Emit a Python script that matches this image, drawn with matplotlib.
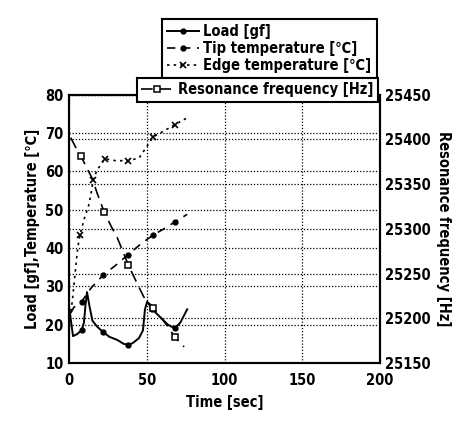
import numpy as np
import matplotlib
matplotlib.use("Agg")
import matplotlib.pyplot as plt

plt.rcParams['font.family'] = ['DejaVu Sans']
plt.rcParams['font.stretch'] = 'condensed'
plt.rcParams['font.weight'] = 'bold'

# load [gf]
load_t = [0, 2.5, 5, 8, 9.5, 10.5, 11.5, 13, 15, 18, 22, 26, 31, 35, 38, 41, 45,
          47.5, 48.8, 50.2, 53.5, 58.5, 63.5, 68, 71.5, 76]
load_v = [24.5, 17, 17.5, 18.5, 20.5, 25, 28.5, 25, 21, 19.5, 18, 16.8, 16, 15,
          14.7, 15.2, 16.5, 18.5, 24, 26, 24, 22, 20, 19, 20.5, 24]
load_mk = [3, 10, 14, 20, 23]

# tip temperature [C]
tip_t = [1, 3, 8, 14, 22, 30, 38, 46, 54, 61, 68, 76]
tip_v = [23, 24.5, 26, 29.5, 33, 35.5, 38.3, 41, 43.4, 45, 46.8, 48.8]
tip_mk = [2, 4, 6, 8, 10]

# edge temperature [C]
edge_t = [0, 2, 4, 5.5, 7, 10, 12.5, 14, 15.5, 18, 23, 30, 38, 45, 50, 54, 62, 68, 76]
edge_v = [20, 26, 34, 40, 43.5, 48, 51, 54, 57.8, 60.4, 63.3, 62.8, 62.8, 63.5,
          66.5, 69, 70.8, 72.2, 74]
edge_mk = [4, 8, 10, 12, 15, 17]

# resonance frequency [Hz]
res_t = [1, 4, 7.7, 12, 15, 18, 22.5, 27, 31, 38, 44, 48, 54, 58, 63, 68, 74]
res_v = [25402, 25392, 25381, 25366, 25356, 25340, 25319, 25303, 25290, 25260,
         25238, 25224, 25212, 25203, 25192, 25179, 25168]
res_mk = [2, 6, 9, 12, 15]

fig = plt.figure(figsize=(4.61, 4.29), dpi=100)
ax1 = fig.add_axes([0.150, 0.154, 0.674, 0.625])
ax2 = ax1.twinx()

l1, = ax1.plot(load_t, load_v, '-', color='black', lw=1.4, marker='o', ms=3.5,
               markevery=load_mk, label='Load [gf]')
l2, = ax1.plot(tip_t, tip_v, color='black', lw=1.2, ls=(0, (5, 4)), marker='o',
               ms=3.5, markevery=tip_mk, label='Tip temperature [℃]')
l3, = ax1.plot(edge_t, edge_v, color='black', lw=1.2, ls=(0, (1.5, 2.5)), marker='x',
               ms=4, mew=1.2, markevery=edge_mk, label='Edge temperature [℃]')
l4, = ax2.plot(res_t, res_v, color='black', lw=1.2, ls=(0, (7, 4)), marker='s', ms=4.5,
               mfc='white', mew=1.1, markevery=res_mk, label='Resonance frequency [Hz]')

ax1.set_xlim(0, 200)
ax1.set_ylim(10, 80)
ax2.set_ylim(25150, 25450)
ax1.set_xticks([0, 50, 100, 150, 200])
ax1.set_yticks(np.arange(10, 81, 10))
ax2.set_yticks(np.arange(25150, 25451, 50))

ax1.grid(True, color='black', ls=(0, (1, 1.5)), lw=0.9)
ax2.grid(True, axis='y', color='black', ls=(0, (1, 1.5)), lw=0.9)
ax1.tick_params(length=0, labelsize=10.5, pad=4)
ax1.tick_params(axis='x', pad=7)
ax2.tick_params(length=0, labelsize=10.5, pad=4)
for ax in (ax1, ax2):
    for s in ax.spines.values():
        s.set_linewidth(1.5)

ax1.set_xlabel('Time [sec]', fontsize=10.5, fontweight='bold', labelpad=5)
ax1.set_ylabel('Load [gf],Temperature [℃]', fontsize=10.5, fontweight='bold')
ax2.set_ylabel('Resonance frequency [Hz]', fontsize=10.5, fontweight='bold',
               rotation=270, labelpad=14)

leg1 = ax2.legend(handles=[l1, l2, l3], loc='upper left', bbox_to_anchor=(0.351, 0.956),
                  bbox_transform=fig.transFigure, borderaxespad=0, fancybox=False,
                  framealpha=1, edgecolor='black', fontsize=10.5, handlelength=2.2,
                  handletextpad=0.3, labelspacing=0.15, borderpad=0.35)
leg1.get_frame().set_linewidth(1.5)
ax2.add_artist(leg1)
leg2 = ax2.legend(handles=[l4], loc='upper left', bbox_to_anchor=(0.297, 0.818),
                  bbox_transform=fig.transFigure, borderaxespad=0, fancybox=False,
                  framealpha=1, edgecolor='black', fontsize=10.5, handlelength=2.2,
                  handletextpad=0.3, borderpad=0.3)
leg2.get_frame().set_linewidth(1.5)

fig.savefig('out.png', dpi=100)
